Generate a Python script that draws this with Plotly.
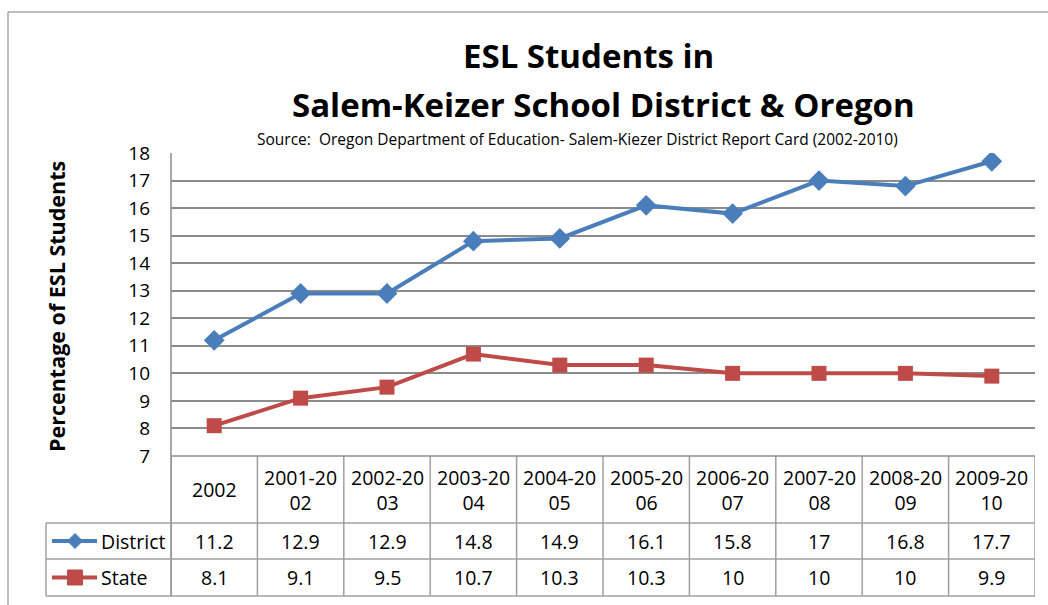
import plotly.graph_objects as go

categories = ["2002", "2001-2002", "2002-2003", "2003-2004", "2004-2005",
              "2005-2006", "2006-2007", "2007-2008", "2008-2009", "2009-2010"]
district = [11.2, 12.9, 12.9, 14.8, 14.9, 16.1, 15.8, 17, 16.8, 17.7]
state = [8.1, 9.1, 9.5, 10.7, 10.3, 10.3, 10, 10, 10, 9.9]
series_names = ["District", "State"]
y_ticks = list(range(7, 19))

W, H = 1048, 605
FONT = "Open Sans"
BLUE = "#4A7EBB"
RED = "#BE4B48"
GRID = "#8C8C8C"
TBL = "#A0A0A0"
TFS = 19.5  # table font size

def px(x):
    return x / W

def py(y):
    return 1 - y / H

# plot area in pixels
PL, PR, PT, PB = 171, 1035, 153, 456
# table rows
R_HEAD_B, R_D_B, R_S_B = 523, 559, 596
LEG_L = 46

n = len(categories)
idx = list(range(n))

fig = go.Figure()
fig.add_trace(go.Scatter(
    x=idx, y=district, name=series_names[0], mode="lines+markers",
    line=dict(color=BLUE, width=4),
    marker=dict(symbol="diamond", size=16, color=BLUE)))
fig.add_trace(go.Scatter(
    x=idx, y=state, name=series_names[1], mode="lines+markers",
    line=dict(color=RED, width=4),
    marker=dict(symbol="square", size=15, color=RED)))

shapes = []
annotations = []

# outer frame
shapes.append(dict(type="line", xref="paper", yref="paper", x0=px(8), x1=px(8),
                   y0=py(12), y1=py(605), line=dict(color="#A6A6A6", width=1.5)))
shapes.append(dict(type="line", xref="paper", yref="paper", x0=px(8), x1=px(1048),
                   y0=py(12), y1=py(12), line=dict(color="#A6A6A6", width=1.5)))

# table: vertical lines at category boundaries
for i in range(n + 1):
    shapes.append(dict(type="line", xref="x", yref="paper", x0=i - 0.5, x1=i - 0.5,
                       y0=py(PB), y1=py(R_S_B), line=dict(color=TBL, width=1.5)))
# left axis line through plot and table
shapes.append(dict(type="line", xref="paper", yref="paper", x0=px(PL), x1=px(PL),
                   y0=py(PT), y1=py(R_S_B), line=dict(color=GRID, width=1.5)))
# horizontal table lines
shapes.append(dict(type="line", xref="paper", yref="paper", x0=px(PL), x1=px(PR),
                   y0=py(PB), y1=py(PB), line=dict(color=GRID, width=1.5)))
for yy in (R_HEAD_B, R_D_B, R_S_B):
    shapes.append(dict(type="line", xref="paper", yref="paper", x0=px(LEG_L), x1=px(PR),
                       y0=py(yy), y1=py(yy), line=dict(color=TBL, width=1.5)))
shapes.append(dict(type="line", xref="paper", yref="paper", x0=px(LEG_L), x1=px(LEG_L),
                   y0=py(R_HEAD_B), y1=py(R_S_B), line=dict(color=TBL, width=1.5)))

# header labels (wrapped like Excel)
def wrap(s, k=7):
    return "<br>".join(s[j:j + k] for j in range(0, len(s), k))

for i, c in enumerate(categories):
    annotations.append(dict(x=i, xref="x", y=py((PB + R_HEAD_B) / 2), yref="paper",
                            text=wrap(c), showarrow=False, yanchor="middle",
                            font=dict(family=FONT, size=TFS, color="black")))
    annotations.append(dict(x=i, xref="x", y=py((R_HEAD_B + R_D_B) / 2), yref="paper",
                            text=f"{district[i]:g}", showarrow=False, yanchor="middle",
                            font=dict(family=FONT, size=TFS, color="black")))
    annotations.append(dict(x=i, xref="x", y=py((R_D_B + R_S_B) / 2), yref="paper",
                            text=f"{state[i]:g}", showarrow=False, yanchor="middle",
                            font=dict(family=FONT, size=TFS, color="black")))

# legend keys inside the table
for name, color, sym, (r0, r1) in [(series_names[0], BLUE, "diamond", (R_HEAD_B, R_D_B)),
                                   (series_names[1], RED, "square", (R_D_B, R_S_B))]:
    yc = (r0 + r1) / 2
    shapes.append(dict(type="line", xref="paper", yref="paper", x0=px(52), x1=px(97),
                       y0=py(yc), y1=py(yc), line=dict(color=color, width=4)))
    if sym == "diamond":
        d = 7.5
        path = (f"M {px(75)},{py(yc - d)} L {px(75 + d)},{py(yc)} "
                f"L {px(75)},{py(yc + d)} L {px(75 - d)},{py(yc)} Z")
        shapes.append(dict(type="path", xref="paper", yref="paper", path=path,
                           fillcolor=color, line=dict(color=color, width=1)))
    else:
        d = 7.5
        shapes.append(dict(type="rect", xref="paper", yref="paper",
                           x0=px(75 - d), x1=px(75 + d), y0=py(yc - d), y1=py(yc + d),
                           fillcolor=color, line=dict(color=color, width=1)))
    annotations.append(dict(x=px(99), xref="paper", y=py(yc), yref="paper", text=name,
                            showarrow=False, xanchor="left", yanchor="middle",
                            font=dict(family=FONT, size=TFS, color="black")))

# titles
annotations.append(dict(x=px(588), y=py(55), xref="paper", yref="paper",
                        text="<b>ESL Students in</b>", showarrow=False,
                        xanchor="center", yanchor="middle",
                        font=dict(family=FONT, size=33, color="black")))
annotations.append(dict(x=px(603), y=py(104), xref="paper", yref="paper",
                        text="<b>Salem-Keizer School District &amp; Oregon</b>", showarrow=False,
                        xanchor="center", yanchor="middle",
                        font=dict(family=FONT, size=33, color="black")))
annotations.append(dict(x=px(577), y=py(139), xref="paper", yref="paper",
                        text="Source:  Oregon Department of Education- Salem-Kiezer District Report Card (2002-2010)",
                        showarrow=False, xanchor="center", yanchor="middle",
                        font=dict(family=FONT, size=15.5, color="black")))
annotations.append(dict(x=px(56), y=py(307), xref="paper", yref="paper",
                        text="<b>Percentage of ESL Students</b>", showarrow=False,
                        textangle=-90, xanchor="center", yanchor="middle",
                        font=dict(family=FONT, size=21.5, color="black")))

fig.update_layout(
    width=W, height=H,
    margin=dict(l=0, r=0, t=0, b=0, pad=0, autoexpand=False),
    paper_bgcolor="white", plot_bgcolor="white",
    showlegend=False,
    shapes=shapes, annotations=annotations,
    xaxis=dict(domain=[px(PL), px(PR)], range=[-0.5, n - 0.5],
               showticklabels=False, showgrid=False, zeroline=False, showline=False,
               automargin=False, fixedrange=True),
    yaxis=dict(domain=[py(PB), py(PT)], range=[7, 18], tickvals=y_ticks,
               showgrid=True, gridcolor=GRID, gridwidth=1.5, zeroline=False,
               showline=False, ticklabelstandoff=20, automargin=False,
               tickfont=dict(family=FONT, size=19, color="black"), fixedrange=True),
)

fig.write_html("out.html", config={"displayModeBar": False},
               post_script=("document.body.style.margin='0px';"
                            "document.body.style.padding='0px';"
                            "document.body.style.overflow='hidden';"
                            "document.documentElement.style.overflow='hidden';"))
